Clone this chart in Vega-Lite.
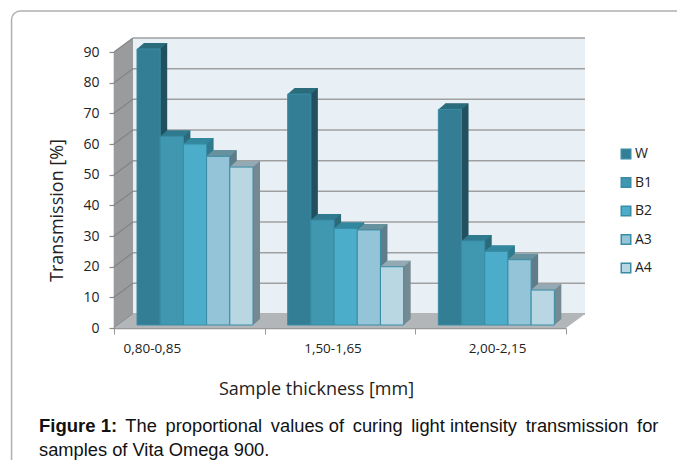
{"$schema":"https://vega.github.io/schema/vega-lite/v6.json","autosize":"none","width":452,"height":276,"padding":{"left":114,"top":52,"right":111,"bottom":132},"background":"white",
"title":{"text":"Figure 1:","subtitle":["\u200b\u00a0\u00a0\u00a0\u00a0\u00a0\u00a0\u00a0\u00a0\u00a0\u00a0\u00a0\u00a0\u00a0\u00a0\u00a0\u00a0\u00a0The\u00a0\u2009proportional\u00a0\u2009values\u00a0of\u00a0\u2009curing\u00a0\u2009light\u00a0intensity\u00a0\u2009transmission\u00a0\u2009for","samples of Vita Omega 900."],"orient":"bottom","anchor":"start","frame":"group","dx":-75,"offset":-65,"font":"Liberation Sans","fontSize":18.5,"fontWeight":"bold","color":"#111","subtitleFont":"Liberation Sans","subtitleFontSize":18.3,"subtitleColor":"#111","subtitleLineHeight":24,"subtitlePadding":-18},
"datasets":{"bars":[
{"thickness":"0,80-0,85","series":"W","transmission":90},{"thickness":"0,80-0,85","series":"B1","transmission":61.5},{"thickness":"0,80-0,85","series":"B2","transmission":59},{"thickness":"0,80-0,85","series":"A3","transmission":55},{"thickness":"0,80-0,85","series":"A4","transmission":51.5},
{"thickness":"1,50-1,65","series":"W","transmission":75.3},{"thickness":"1,50-1,65","series":"B1","transmission":34.2},{"thickness":"1,50-1,65","series":"B2","transmission":31.5},{"thickness":"1,50-1,65","series":"A3","transmission":31},{"thickness":"1,50-1,65","series":"A4","transmission":19},
{"thickness":"2,00-2,15","series":"W","transmission":70.3},{"thickness":"2,00-2,15","series":"B1","transmission":27.4},{"thickness":"2,00-2,15","series":"B2","transmission":24},{"thickness":"2,00-2,15","series":"A3","transmission":21.3},{"thickness":"2,00-2,15","series":"A4","transmission":11.4}],
"grid":[{"g":0},{"g":10},{"g":20},{"g":30},{"g":40},{"g":50},{"g":60},{"g":70},{"g":80},{"g":90}]},
"layer":[
{"data":{"values":[{}]},"mark":{"type":"rect","fill":"transparent","stroke":"#b0b0b0","strokeWidth":1.5,"cornerRadius":9,"clip":false},"encoding":{"x":{"datum":-0.68,"type":"quantitative","scale":{"domain":[0,3]},"axis":null},"x2":{"datum":4.1},"y":{"datum":103.4,"type":"quantitative","scale":{"domain":[0,90],"nice":false},"axis":{"values":[0,10,20,30,40,50,60,70,80,90],"tickCount":10,"labelOverlap":false,"title":"Transmission [%]","titleFont":"Open Sans","titleFontSize":18,"titleFontWeight":"normal","titleColor":"#222","titleX":-48,"titleY":158,"labelFont":"Open Sans","labelFontSize":14,"labelColor":"#222","labelPadding":10,"tickColor":"#888","domainColor":"#888","tickSize":5,"grid":false,"domainWidth":1.5,"tickWidth":1.2}},"y2":{"datum":-50}}},
{"data":{"values":[{}]},"mark":{"type":"rect","fill":"#e8f0f6"},"encoding":{"x":{"datum":0.126,"type":"quantitative","scale":{"domain":[0,3]},"axis":null},"x2":{"datum":3.126},"y":{"datum":4.56,"type":"quantitative"},"y2":{"datum":94.56}}},
{"data":{"name":"grid"},"mark":{"type":"rule","stroke":"#a0a0a0","strokeWidth":1.5,"yOffset":-14},"encoding":{"x":{"datum":0.126,"type":"quantitative","scale":{"domain":[0,3]},"axis":null},"x2":{"datum":3.126},"y":{"field":"g","type":"quantitative"}}},
{"data":{"values":[{"d":0,"lo":0,"hi":90},{"d":0.126,"lo":4.56,"hi":94.56}]},"mark":{"type":"area","fill":"#999b9d","orient":"vertical"},"encoding":{"x":{"field":"d","type":"quantitative","scale":{"domain":[0,3]},"axis":null},"y":{"field":"lo","type":"quantitative"},"y2":{"field":"hi"}}},
{"data":{"name":"grid"},"mark":{"type":"rule","stroke":"#828486","strokeWidth":1.2,"y2Offset":-14},"encoding":{"x":{"datum":0,"type":"quantitative","scale":{"domain":[0,3]},"axis":null},"x2":{"datum":0.126},"y":{"field":"g","type":"quantitative"},"y2":{"field":"g"}}},
{"data":{"values":[{"d":0,"a":0,"b":3},{"d":4.56,"a":0.126,"b":3.126}]},"mark":{"type":"area","fill":"#b3b6b8","orient":"horizontal"},"encoding":{"x":{"field":"a","type":"quantitative","scale":{"domain":[0,3]},"axis":{"orient":"bottom","values":[0,1,2,3],"labels":false,"title":null,"ticks":true,"tickSize":6,"tickColor":"#999","domainColor":"#999","domainWidth":1.5,"grid":false}},"x2":{"field":"b"},"y":{"field":"d","type":"quantitative"}}},
{"data":{"name":"bars"},"mark":{"type":"bar","yOffset":-9,"y2Offset":-9},"encoding":{"x":{"field":"thickness","type":"nominal","scale":{"paddingInner":0,"paddingOuter":0},"axis":null},"xOffset":{"field":"series","sort":["W","B1","B2","A3","A4"],"scale":{"range":[30,146],"paddingOuter":0,"paddingInner":0}},"y":{"field":"transmission","type":"quantitative","stack":null},"y2":{"datum":0},"color":{"field":"series","scale":{"domain":["W","B1","B2","A3","A4"],"range":["#23505f","#2b6a7b","#2f7a8e","#5e7d89","#748992"]},"legend":null}}},
{"data":{"name":"bars"},"mark":{"type":"point","shape":"M11.67,0L18.67,-6L11.67,-6Z","size":4,"filled":true,"opacity":1,"yOffset":-3},"encoding":{"x":{"field":"thickness","type":"nominal","scale":{"paddingInner":0,"paddingOuter":0},"axis":null},"xOffset":{"field":"series","sort":["W","B1","B2","A3","A4"],"scale":{"type":"point","padding":0,"range":[34.67,127.33]}},"y":{"datum":0,"type":"quantitative"},"color":{"field":"series","scale":{"domain":["W","B1","B2","A3","A4"],"range":["#23505f","#2b6a7b","#2f7a8e","#5e7d89","#748992"]},"legend":null}}},
{"data":{"name":"bars"},"mark":{"type":"point","shape":"M-11.67,0L-4.67,-6L18.67,-6L11.67,0Z","size":4,"filled":true,"opacity":1,"yOffset":-3},"encoding":{"x":{"field":"thickness","type":"nominal","scale":{"paddingInner":0,"paddingOuter":0},"axis":null},"xOffset":{"field":"series","sort":["W","B1","B2","A3","A4"],"scale":{"type":"point","padding":0,"range":[34.67,127.33]}},"y":{"field":"transmission","type":"quantitative"},"color":{"field":"series","scale":{"domain":["W","B1","B2","A3","A4"],"range":["#2a6b7c","#2f7a8e","#33879e","#66919f","#93a9b3"]},"legend":null}}},
{"data":{"name":"bars"},"mark":{"type":"bar","stroke":"#3a8ca5","strokeWidth":1,"yOffset":-3,"y2Offset":-3},"encoding":{"x":{"field":"thickness","type":"nominal","scale":{"paddingInner":0,"paddingOuter":0},"axis":{"orient":"bottom","title":"Sample thickness [mm]","titleFont":"Open Sans","titleFontSize":18,"titleFontWeight":"normal","titleColor":"#222","titleX":202,"titleY":52,"labelFont":"Open Sans","labelFontSize":13.5,"labelColor":"#222","labelAngle":0,"labelPadding":13,"ticks":false,"domain":false,"labelOffset":{"expr":"datum.label=='0,80-0,85'?-37:datum.label=='1,50-1,65'?-7:7"}}},"xOffset":{"field":"series","sort":["W","B1","B2","A3","A4"],"scale":{"range":[23,139],"paddingOuter":0,"paddingInner":0}},"y":{"field":"transmission","type":"quantitative","stack":null},"y2":{"datum":0},"color":{"field":"series","scale":{"domain":["W","B1","B2","A3","A4"],"range":["#347e95","#3f97b0","#4badc9","#93c4d7","#b9d6e3"]},"legend":{"title":null,"orient":"none","legendX":505,"legendY":95,"symbolType":"square","symbolSize":90,"rowPadding":12.5,"labelFont":"Open Sans","labelFontSize":14,"labelColor":"#222","labelOffset":2}}}}
],
"resolve":{"scale":{"x":"independent","color":"independent","xOffset":"independent"},"axis":{"x":"independent"}},
"config":{"view":{"stroke":null},"axisY":{"labelOverlap":false,"tickCount":10}}}
